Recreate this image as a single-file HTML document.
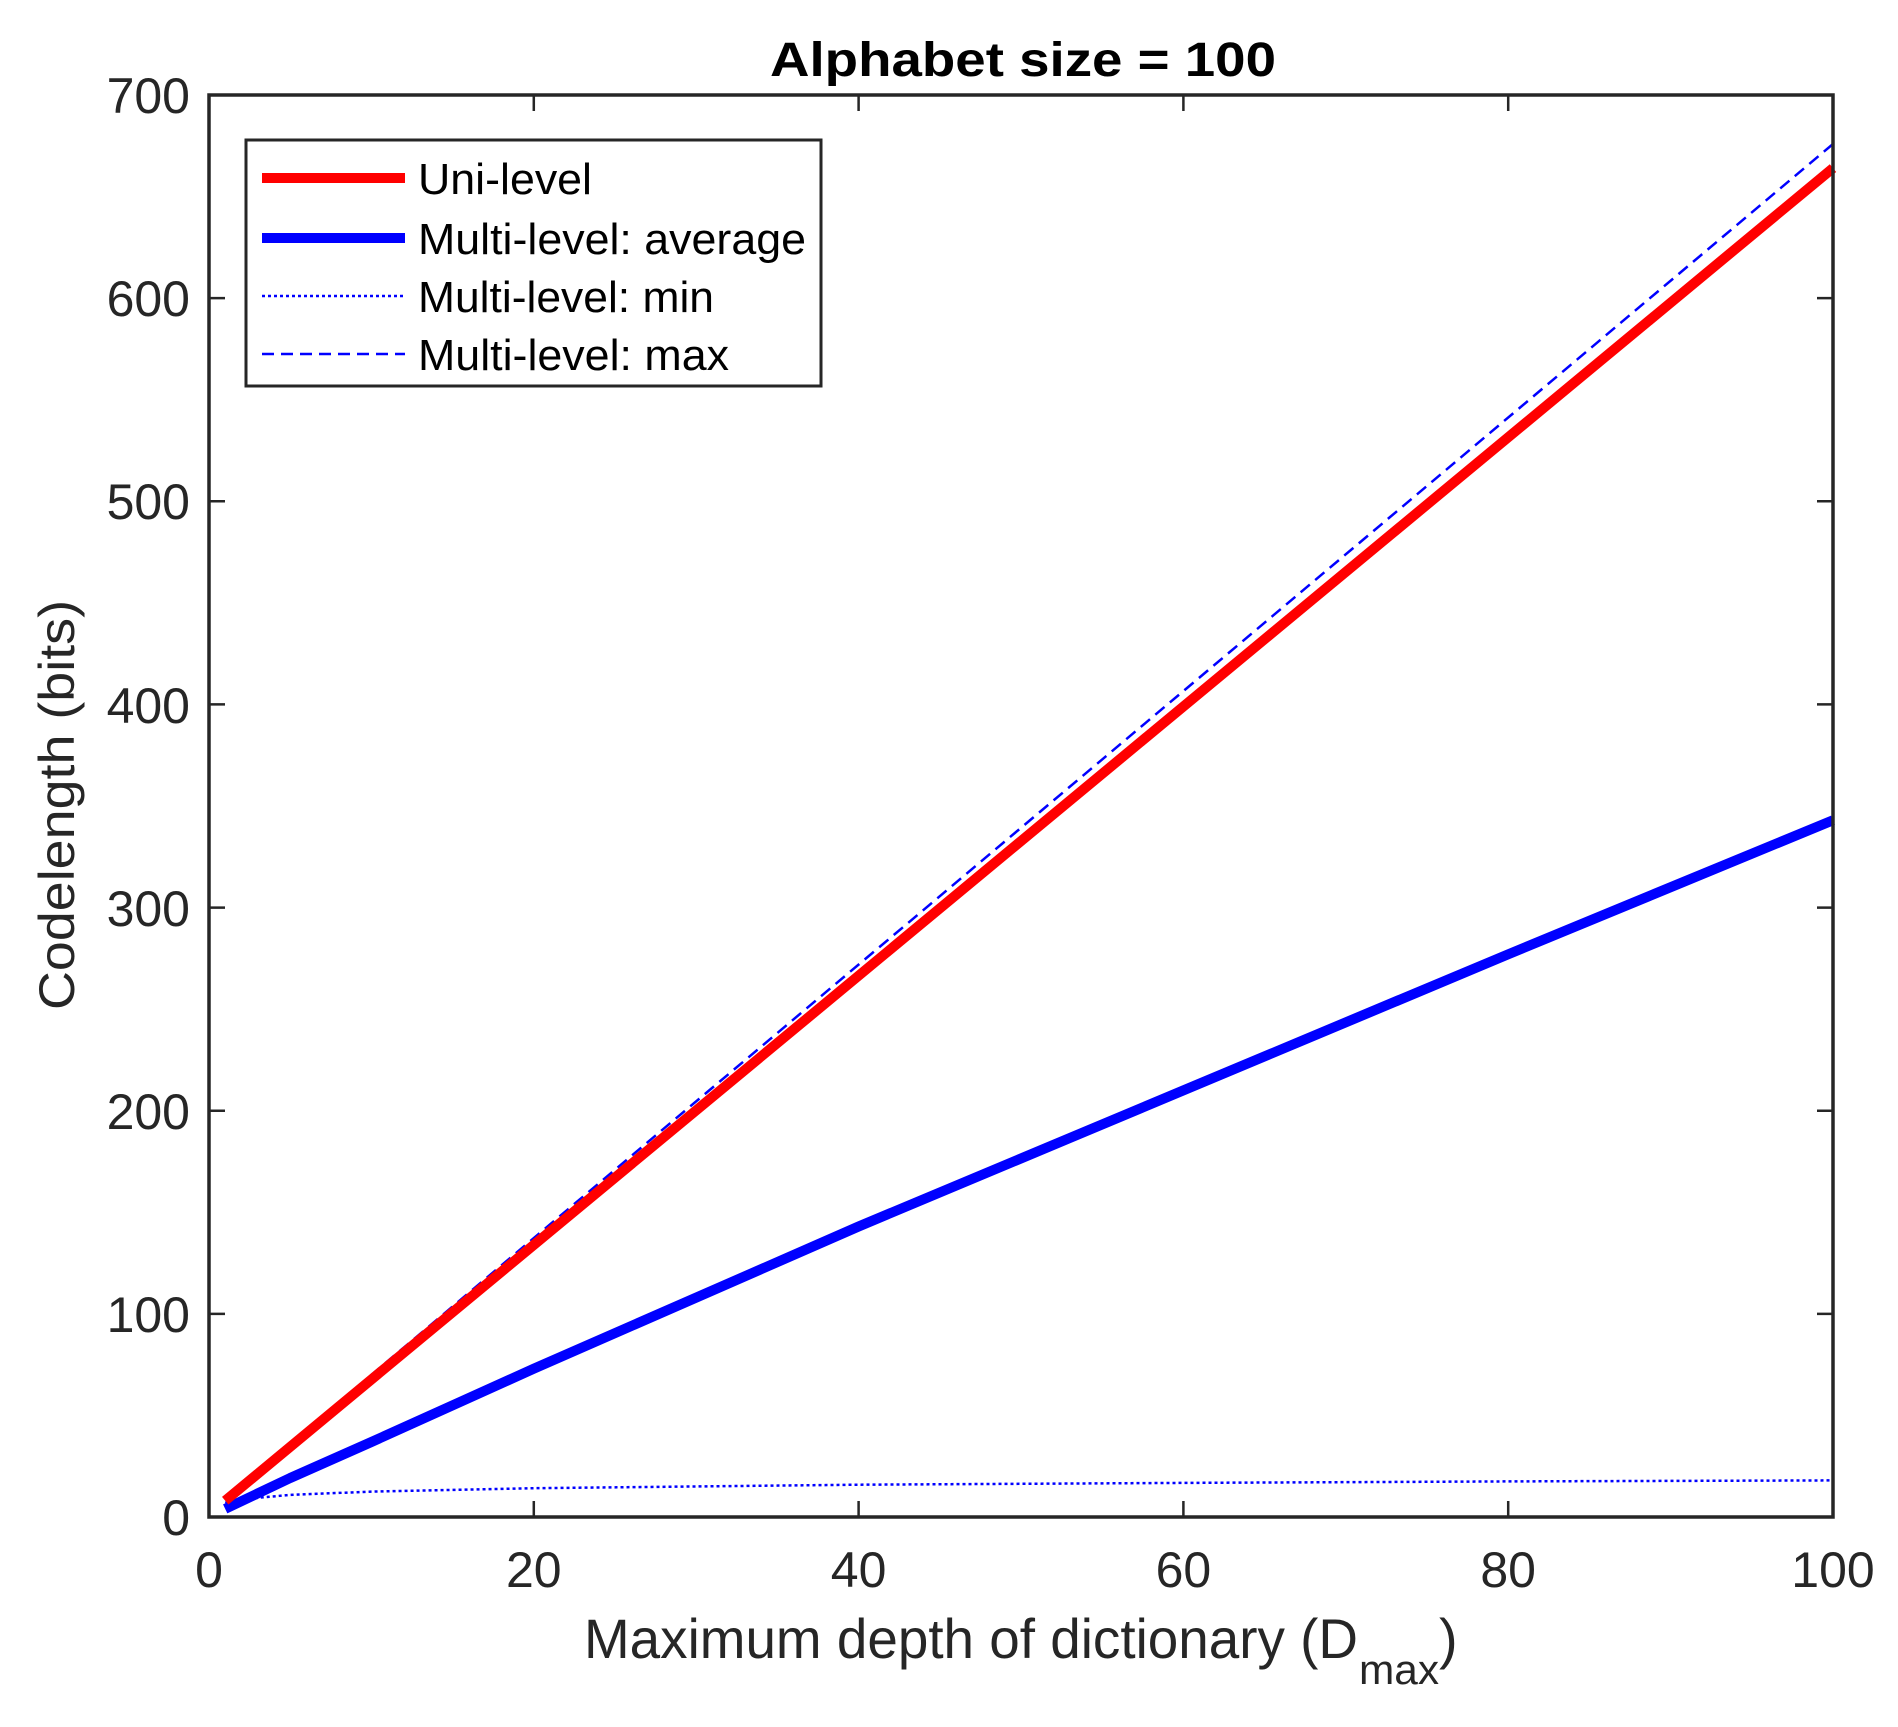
<!DOCTYPE html>
<html><head><meta charset="utf-8"><style>
html,body{margin:0;padding:0;background:#fff}
svg{display:block}
text{font-family:"Liberation Sans",Arial,sans-serif;fill:#262626}
</style></head><body>
<svg width="1898" height="1727" viewBox="0 0 1898 1727" xmlns="http://www.w3.org/2000/svg">
<rect width="1898" height="1727" fill="#fff"/>
<g stroke="#262626" stroke-width="2.5" fill="none">
<path d="M533.8,1517v-16M858.6,1517v-16M1183.4,1517v-16M1508.2,1517v-16M533.8,95v16M858.6,95v16M1183.4,95v16M1508.2,95v16"/>
<path d="M209,1313.9h16M209,1110.7h16M209,907.6h16M209,704.4h16M209,501.3h16M209,298.1h16M1833,1313.9h-16M1833,1110.7h-16M1833,907.6h-16M1833,704.4h-16M1833,501.3h-16M1833,298.1h-16"/>
</g>
<polyline fill="none" stroke="#0000ff" stroke-width="2.5" stroke-dasharray="3,3" points="225.2,1502.8 241.5,1499.3 290.2,1494.9 371.4,1491.6 533.8,1488.2 858.6,1484.7 1183.4,1482.9 1508.2,1481.4 1833,1480.4"/>
<polyline fill="none" stroke="#0000ff" stroke-width="10" stroke-linejoin="round" points="225.2,1508.9 290.2,1478 371.4,1442 533.8,1368.7 858.6,1226.5 1183.4,1090.4 1508.2,954.3 1833,820.2"/>
<line x1="225.2" y1="1498" x2="1833" y2="144" stroke="#0000ff" stroke-width="2.5" stroke-dasharray="12,7"/>
<line x1="225.2" y1="1500.7" x2="1833" y2="168.1" stroke="#ff0000" stroke-width="10"/>
<rect x="209" y="95" width="1624" height="1422" fill="none" stroke="#262626" stroke-width="3.5"/>
<rect x="246" y="140" width="575" height="246" fill="#fff" stroke="#262626" stroke-width="3"/>
<line x1="262" y1="178" x2="405" y2="178" stroke="#ff0000" stroke-width="10"/>
<line x1="262" y1="238" x2="405" y2="238" stroke="#0000ff" stroke-width="10"/>
<line x1="262" y1="296" x2="405" y2="296" stroke="#0000ff" stroke-width="2.5" stroke-dasharray="3,3"/>
<line x1="262" y1="354" x2="405" y2="354" stroke="#0000ff" stroke-width="2.5" stroke-dasharray="12,7"/>
<g font-size="44">
<text x="418" y="194" style="fill:#000" textLength="174" lengthAdjust="spacingAndGlyphs">Uni-level</text>
<text x="418" y="254" style="fill:#000" textLength="388" lengthAdjust="spacingAndGlyphs">Multi-level: average</text>
<text x="418" y="312" style="fill:#000" textLength="296" lengthAdjust="spacingAndGlyphs">Multi-level: min</text>
<text x="418" y="370" style="fill:#000" textLength="311" lengthAdjust="spacingAndGlyphs">Multi-level: max</text>
</g>
<g font-size="50" text-anchor="end">
<text x="190" y="1535">0</text>
<text x="190" y="1332">100</text>
<text x="190" y="1129">200</text>
<text x="190" y="926">300</text>
<text x="190" y="723">400</text>
<text x="190" y="519">500</text>
<text x="190" y="316">600</text>
<text x="190" y="113">700</text>
</g>
<g font-size="50" text-anchor="middle">
<text x="209" y="1587">0</text>
<text x="533.8" y="1587">20</text>
<text x="858.6" y="1587">40</text>
<text x="1183.4" y="1587">60</text>
<text x="1508.2" y="1587">80</text>
<text x="1833" y="1587">100</text>
</g>
<text x="1023" y="76" font-size="48" font-weight="bold" text-anchor="middle" style="fill:#000" textLength="506" lengthAdjust="spacingAndGlyphs">Alphabet size = 100</text>
<text x="584" y="1658" font-size="56" textLength="774" lengthAdjust="spacingAndGlyphs">Maximum depth of dictionary (D</text>
<text x="1359" y="1684" font-size="42" textLength="80" lengthAdjust="spacingAndGlyphs">max</text>
<text x="1439" y="1658" font-size="56">)</text>
<text transform="translate(74,805) rotate(-90)" font-size="50" text-anchor="middle" textLength="410" lengthAdjust="spacingAndGlyphs">Codelength (bits)</text>
</svg>
</body></html>
